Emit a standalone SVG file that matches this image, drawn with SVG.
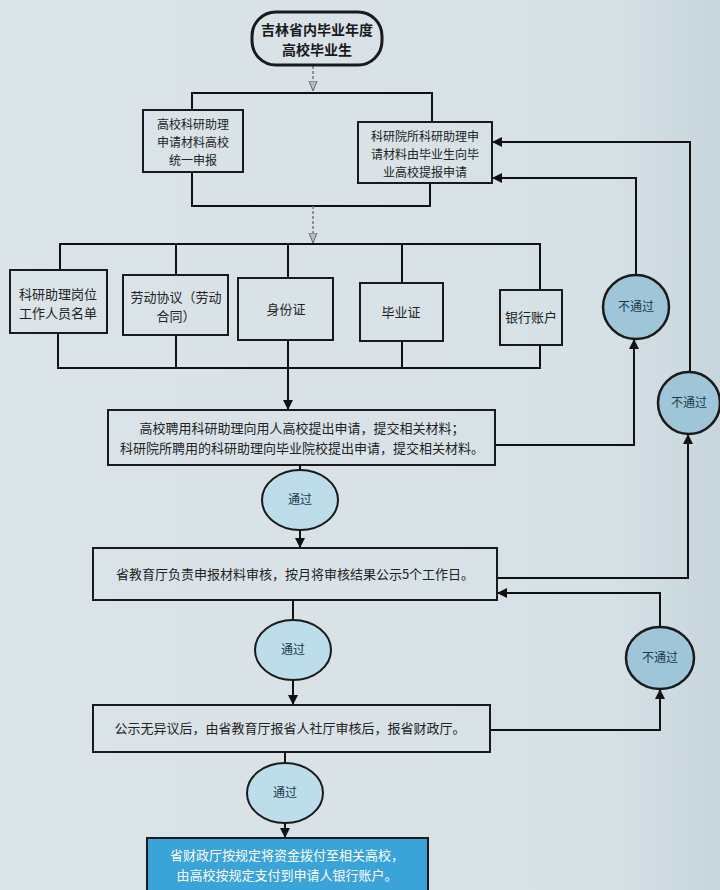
<svg xmlns="http://www.w3.org/2000/svg" width="720" height="890" viewBox="0 0 720 890">
<defs>
<marker id="ah" viewBox="0 0 10 10" refX="10" refY="5" markerWidth="10" markerHeight="10" markerUnits="userSpaceOnUse" orient="auto"><path d="M0,0 L10,5 L0,10 z" fill="#111"/></marker>
<marker id="ahg" viewBox="0 0 10 10" refX="10" refY="5" markerWidth="10" markerHeight="10" markerUnits="userSpaceOnUse" orient="auto"><path d="M0,1 L10,5 L0,9 z" fill="#b8bec2" stroke="#666" stroke-width="1"/></marker>
<linearGradient id="bg" x1="0" y1="0" x2="1" y2="0"><stop offset="0" stop-color="#dbe4e8"/><stop offset="0.85" stop-color="#d6e1e6"/><stop offset="1" stop-color="#c7d5dc"/></linearGradient>
</defs>
<style>
.box{fill:none;stroke:#1a1a1a;stroke-width:2}
.t{font-family:"Noto Sans CJK SC","Noto Sans",sans-serif;font-size:13px;fill:#222;text-anchor:middle}
.ts{font-family:"Noto Sans CJK SC","Noto Sans",sans-serif;font-size:12px;fill:#222;text-anchor:middle}
.tb{font-family:"Noto Sans CJK SC","Noto Sans",sans-serif;font-size:14px;font-weight:bold;fill:#1a1a1a;text-anchor:middle}
.tw{font-family:"Noto Sans CJK SC","Noto Sans",sans-serif;font-size:13px;fill:#fff;text-anchor:middle}
.c{fill:none;stroke:#111;stroke-width:2}
.dg{fill:none;stroke:#777;stroke-width:1.5;stroke-dasharray:3 2}
.yes{fill:#bcdde9;stroke:#1a1a1a;stroke-width:2}
.no{fill:#9fc6d8;stroke:#1a1a1a;stroke-width:2.5}
.ct{font-family:"Noto Sans CJK SC","Noto Sans",sans-serif;font-size:12px;fill:#1a3a4a;text-anchor:middle}
</style>
<rect width="720" height="890" fill="url(#bg)"/>

<g id="connectors">
<path class="dg" d="M313,66 V91" marker-end="url(#ahg)"/>
<path class="c" d="M192,110 V93 H432 V122"/>
<path class="c" d="M192,172 V206 H430 V183"/>
<path class="dg" d="M313,206 V243" marker-end="url(#ahg)"/>
<path class="c" d="M60,270 V244 H540 V290"/>
<path class="c" d="M176,244 V275 M288,244 V278 M402,244 V283"/>
<path class="c" d="M58,333 V368 H540 V345"/>
<path class="c" d="M176,335 V368 M402,341 V368"/>
<path class="c" d="M288,340 V410" marker-end="url(#ah)"/>
<path class="c" d="M300,465 V470"/>
<path class="c" d="M300,530 V548" marker-end="url(#ah)"/>
<path class="c" d="M293,600 V620"/>
<path class="c" d="M293,680 V705" marker-end="url(#ah)"/>
<path class="c" d="M285,752 V763"/>
<path class="c" d="M285,823 V838" marker-end="url(#ah)"/>
<path class="c" d="M495,445 H634 V339" marker-end="url(#ah)"/>
<path class="c" d="M636,275 V178 H492" marker-end="url(#ah)"/>
<path class="c" d="M497,578 H688 V434" marker-end="url(#ah)"/>
<path class="c" d="M690,372 V142 H492" marker-end="url(#ah)"/>
<path class="c" d="M490,730 H660 V689" marker-end="url(#ah)"/>
<path class="c" d="M660,628 V593 H497" marker-end="url(#ah)"/>
</g>

<g id="start">
<rect x="252" y="12" width="130" height="53" rx="24" ry="24" fill="none" stroke="#1a1a1a" stroke-width="3"/>
<text class="tb" x="317" y="35">吉林省内毕业年度</text>
<text class="tb" x="317" y="55">高校毕业生</text>
</g>

<g id="n-left">
<rect class="box" x="143" y="110" width="100" height="62"/>
<text class="ts" x="193" y="129">高校科研助理</text>
<text class="ts" x="193" y="147">申请材料高校</text>
<text class="ts" x="193" y="165">统一申报</text>
</g>

<g id="n-right">
<rect class="box" x="358" y="122" width="134" height="61"/>
<text class="ts" x="425" y="141">科研院所科研助理申</text>
<text class="ts" x="425" y="159">请材料由毕业生向毕</text>
<text class="ts" x="425" y="177">业高校提报申请</text>
</g>

<g id="m1">
<rect class="box" x="10" y="270" width="97" height="63"/>
<text class="t" x="58" y="299">科研助理岗位</text>
<text class="t" x="58" y="318">工作人员名单</text>
</g>
<g id="m2">
<rect class="box" x="123" y="275" width="105" height="60"/>
<text class="t" x="176" y="302">劳动协议（劳动</text>
<text class="t" x="176" y="321">合同）</text>
</g>
<g id="m3">
<rect class="box" x="238" y="278" width="95" height="62"/>
<text class="t" x="286" y="314">身份证</text>
</g>
<g id="m4">
<rect class="box" x="360" y="283" width="83" height="58"/>
<text class="t" x="401" y="317">毕业证</text>
</g>
<g id="m5">
<rect class="box" x="500" y="290" width="62" height="55"/>
<text class="t" x="531" y="322">银行账户</text>
</g>

<g id="apply">
<rect class="box" x="108" y="410" width="387" height="55"/>
<text class="t" x="302" y="433">高校聘用科研助理向用人高校提出申请，提交相关材料；</text>
<text class="t" x="302" y="453">科研院所聘用的科研助理向毕业院校提出申请，提交相关材料。</text>
</g>

<g id="pass1">
<ellipse class="yes" cx="300" cy="500" rx="38" ry="30"/>
<text class="ct" x="300" y="504">通过</text>
</g>

<g id="review">
<rect class="box" x="93" y="548" width="404" height="52"/>
<text class="t" x="295" y="579">省教育厅负责申报材料审核，按月将审核结果公示5个工作日。</text>
</g>

<g id="pass2">
<ellipse class="yes" cx="293" cy="650" rx="38" ry="30"/>
<text class="ct" x="293" y="654">通过</text>
</g>

<g id="report">
<rect class="box" x="93" y="705" width="397" height="47"/>
<text class="t" x="290" y="733">公示无异议后，由省教育厅报省人社厅审核后，报省财政厅。</text>
</g>

<g id="pass3">
<ellipse class="yes" cx="285" cy="793" rx="38" ry="30"/>
<text class="ct" x="285" y="797">通过</text>
</g>

<g id="final">
<rect x="147" y="838" width="281" height="54" fill="#3aa3d8" stroke="#1a1a1a" stroke-width="2"/>
<text class="tw" x="287" y="860">省财政厅按规定将资金拨付至相关高校，</text>
<text class="tw" x="287" y="880">由高校按规定支付到申请人银行账户。</text>
</g>

<g id="fail1">
<ellipse class="no" cx="636" cy="307" rx="33" ry="32"/>
<text class="ct" x="636" y="311">不通过</text>
</g>
<g id="fail2">
<ellipse class="no" cx="689" cy="403" rx="31" ry="31"/>
<text class="ct" x="689" y="407">不通过</text>
</g>
<g id="fail3">
<ellipse class="no" cx="660" cy="658" rx="34" ry="31"/>
<text class="ct" x="660" y="662">不通过</text>
</g>
</svg>
